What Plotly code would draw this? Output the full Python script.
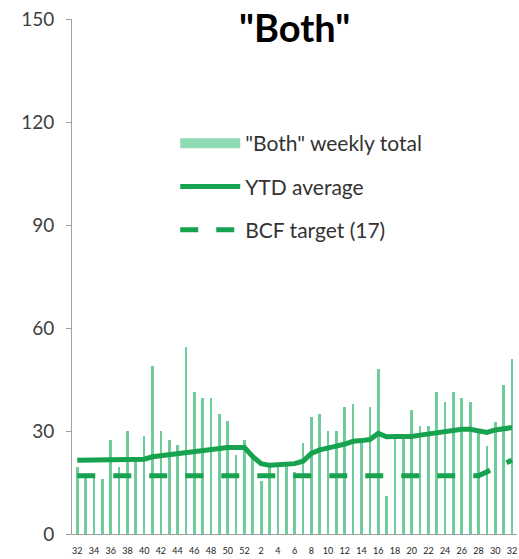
import plotly.graph_objects as go

weeks = [32, 33, 34, 35, 36, 37, 38, 39, 40, 41, 42, 43, 44, 45, 46, 47, 48, 49, 50, 51, 52,
         1, 2, 3, 4, 5, 6, 7, 8, 9, 10, 11, 12, 13, 14, 15, 16, 17, 18, 19, 20, 21, 22, 23, 24,
         25, 26, 27, 28, 29, 30, 31, 32]
weekly_total = [19.5, 17.5, 17, 16, 27.5, 19.5, 30, 21.5, 28.5, 49, 30, 27.5, 26, 54.5, 41.5, 39.5, 39.5, 35, 33, 23, 27.5,
                22, 15.5, 20.5, 20, 20, 18, 26.5, 34, 35, 30, 30, 37, 38, 27.5, 37, 48, 11,
                28.5, 28.5, 36, 31.5, 31.5, 41.5, 38.5, 41.5, 39.5, 38.5, 29.5, 25.5, 32.5, 43.5, 51]
ytd_average = [21.5, 21.5, 21.5, 21.5, 21.5, 21.5, 21.5, 21.5, 21.8, 22.5, 22.8, 23, 23.3, 23.8, 24.2, 24.5, 24.8, 25, 25.2, 25.2, 25.2,
               22.5, 20.5, 20, 20.2, 20.3, 20.5, 21.2, 23.5, 24.5, 25.2, 25.6, 26.2, 27, 27.2, 27.5, 29.3, 28.3,
               28.4, 28.3, 28.4, 28.8, 29.2, 29.6, 30, 30.2, 30.5, 30.5, 30, 29.6, 30.3, 30.7, 31]
bcf_target = [17] * 49 + [18.1, 19.3, 20.4, 21.5]
y_ticks = [0, 30, 60, 90, 120, 150]

idx = list(range(len(weeks)))
tick_idx = [i for i, w in enumerate(weeks) if w % 2 == 0]
tick_txt = [str(weeks[i]) for i in tick_idx]

BAR = "#6fcd99"
LINE = "#17a24f"
FONT = "Lato, 'Open Sans', sans-serif"

fig = go.Figure()
fig.add_trace(go.Bar(x=idx, y=weekly_total, width=0.32, marker=dict(color=BAR, line=dict(width=0)),
                     showlegend=False, name='"Both" weekly total'))
fig.add_trace(go.Scatter(x=[None], y=[None], mode="lines", line=dict(color="#8fdab3", width=14),
                         name='"Both" weekly total', legendgroup="a"))
fig.add_trace(go.Scatter(x=idx, y=ytd_average, mode="lines", line=dict(color=LINE, width=5),
                         name="YTD average", legendgroup="b"))
fig.add_trace(go.Scatter(x=idx, y=bcf_target, mode="lines", line=dict(color=LINE, width=5, dash="18px,18px"),
                         name="BCF target (17)", legendgroup="c"))

fig.update_layout(
    width=519, height=559,
    margin=dict(l=72, r=2, t=19, b=25),
    paper_bgcolor="white", plot_bgcolor="white",
    font=dict(family=FONT, color="#404040"),
    bargap=0,
    legend=dict(x=0.232, y=0.798, xanchor="left", yanchor="top", bgcolor="rgba(0,0,0,0)",
                font=dict(size=21, color="#333333"), itemwidth=60, tracegroupgap=13,
                traceorder="grouped"),
    annotations=[dict(text='<b>"Both"</b>', x=0.5, y=0.9845, xref="paper", yref="paper",
                      xanchor="center", yanchor="middle",
                      showarrow=False, font=dict(size=38, color="black", family=FONT))],
)
fig.update_xaxes(range=[-0.63, 52.6], tickvals=tick_idx, ticktext=tick_txt, tickangle=0,
                 tickfont=dict(size=9, color="#222222"), showline=True, linecolor="#a0a0a0",
                 linewidth=1, ticks="", showgrid=False, zeroline=False, ticklabelstandoff=8)
fig.update_yaxes(range=[0, 150], tickvals=y_ticks, tickfont=dict(size=19, color="#404040"),
                 showline=True, linecolor="#a0a0a0", linewidth=1, ticks="outside", ticklen=5,
                 tickcolor="#a0a0a0", showgrid=False, zeroline=False, ticklabelstandoff=8)

fig.write_html("out.html")
